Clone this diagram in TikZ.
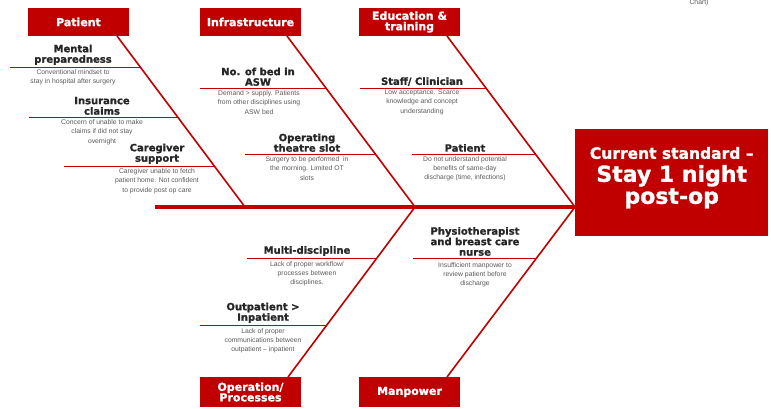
\documentclass[tikz,border=0pt]{standalone}
\usepackage{fontspec}
\setmainfont{Liberation Sans}
\newfontfamily\headfont[BoldFeatures={FakeBold=1.2}]{DejaVu Sans}
\usetikzlibrary{positioning, calc}
\definecolor{fbred}{HTML}{C00000}
\definecolor{headgrey}{HTML}{262626}
\definecolor{notegrey}{HTML}{595959}

\begin{document}
\begin{tikzpicture}[
    x=1pt, y=-1pt,
    catbox/.style={fill=fbred, text=white, minimum width=101pt, minimum height=28pt,
        inner sep=1pt, align=center, font=\headfont\bfseries\fontsize{11}{10.5}\selectfont},
    bone/.style={fbred, line width=1.6pt},
    twig/.style={fbred, line width=0.8pt},
    cause/.style={text=headgrey, align=center, inner sep=0pt, anchor=south,
        font=\headfont\bfseries\fontsize{10}{10.5}\selectfont},
    note/.style={text=notegrey, align=center, inner sep=0pt, anchor=north,
        font=\fontsize{6.8}{9.3}\selectfont}
]
    \useasboundingbox (0,0) rectangle (771,408);

    % Effect box and spine:
    \node[fill=fbred, minimum width=193pt, minimum height=107pt, inner sep=0pt,
        anchor=north west] (effect) at (575,129) {};
    \node[text=white, align=center, inner sep=0pt,
        font=\headfont\bfseries\fontsize{22}{22}\selectfont]
        (effectText) at ($(effect.center)+(0,-5)$)
        {{\fontsize{15.5}{16}\selectfont Current standard –}\\[1pt]
         Stay 1 night\\post-op};
    \node[note, anchor=base] (chart) at (699,4) {Chart)};
    \coordinate (head) at (575,207);
    \coordinate (tail) at (155,207);
    \draw[fbred, line width=3.5pt] (tail) -- (head);

    % Category boxes:
    \node[catbox] (patient) at (78.5,22) {Patient};
    \node[catbox] (infra) at (250.5,22) {Infrastructure};
    \node[catbox] (edu) at (409.5,22) {Education \&\\training};
    \node[catbox, minimum height=30pt] (ops) at (250.5,392) {Operation/\\Processes};
    \node[catbox, minimum height=30pt] (manpower) at (409.5,392) {Manpower};

    % Bones from boxes to spine:
    \coordinate (patRoot) at (117,36);  \coordinate (patEnd) at (245,207);
    \coordinate (infRoot) at (287,36);  \coordinate (infEnd) at (415,207);
    \coordinate (eduRoot) at (447,36);
    \coordinate (opsRoot) at (288,377); \coordinate (opsEnd) at (415,207);
    \coordinate (manRoot) at (447,377);
    \draw[bone] (patRoot) -- (patEnd);
    \draw[bone] (infRoot) -- (infEnd);
    \draw[bone] (eduRoot) -- (head);
    \draw[bone] (opsRoot) -- (opsEnd);
    \draw[bone] (manRoot) -- (head);

    % Patient causes
    \coordinate (mentL) at (10,67);   \coordinate (mentR) at (140,67);
    \coordinate (insL) at (29,117);   \coordinate (insR) at (178,117);
    \coordinate (careL) at (64,166);  \coordinate (careR) at (214,166);
    \draw[twig] (mentL) -- (mentR);
    \draw[twig] (insL) -- (insR);
    \draw[twig] (careL) -- (careR);
    \node[cause] (mental) at (73,65) {Mental\\preparedness};
    \node[note] (mentalNote) at (73,69.5) {Conventional mindset to\\stay in hospital after surgery};
    \node[cause] (insurance) at (102,115) {Insurance\\claims};
    \node[note] (insuranceNote) at (102,119.5) {Concern of unable to make\\claims if did not stay\\overnight};
    \node[cause] (caregiver) at (157,164) {Caregiver\\support};
    \node[note] (caregiverNote) at (157,168.5) {Caregiver unable to fetch\\patient home. Not confident\\to provide post op care};

    % Infrastructure causes
    \coordinate (bedL) at (200,88);   \coordinate (bedR) at (326,88);
    \coordinate (otL) at (245,154);   \coordinate (otR) at (375,154);
    \draw[twig] (bedL) -- (bedR);
    \draw[twig] (otL) -- (otR);
    \node[cause] (bed) at (258,86) {No. of bed in\\ASW};
    \node[note] (bedNote) at (259,90.5) {Demand > supply. Patients\\from other disciplines using\\ASW bed};
    \node[cause] (theatre) at (307,152) {Operating\\theatre slot};
    \node[note] (theatreNote) at (307,156.5) {Surgery to be performed~ in\\the morning. Limited OT\\slots};

    % Education causes
    \coordinate (staffL) at (360,88);   \coordinate (staffR) at (486,88);
    \coordinate (eptL) at (412,154);    \coordinate (eptR) at (535,154);
    \draw[twig] (staffL) -- (staffR);
    \draw[twig] (eptL) -- (eptR);
    \node[cause] (staff) at (422,86) {Staff/ Clinician};
    \node[note] (staffNote) at (422,89.5) {Low acceptance. Scarce\\knowledge and concept\\understanding};
    \node[cause] (eduPatient) at (465,152) {Patient};
    \node[note] (eduPatientNote) at (465,156) {Do not understand potential\\benefits of same-day\\discharge (time, infections)};

    % Operation causes
    \coordinate (multiL) at (247,258);  \coordinate (multiR) at (377,258);
    \coordinate (outL) at (200,325);    \coordinate (outR) at (327,325);
    \draw[twig] (multiL) -- (multiR);
    \draw[twig] (outL) -- (outR);
    \node[cause] (multi) at (307,256) {Multi-discipline};
    \node[note] (multiNote) at (307,261) {Lack of proper workflow/\\processes between\\disciplines.};
    \node[cause] (outpt) at (263,323) {Outpatient >\\Inpatient};
    \node[note] (outptNote) at (263,328) {Lack of proper\\communications between\\outpatient – inpatient};

    % Manpower causes
    \coordinate (physioL) at (413,258);  \coordinate (physioR) at (537,258);
    \draw[twig] (physioL) -- (physioR);
    \node[cause] (physio) at (475,256) {Physiotherapist\\and breast care\\nurse};
    \node[note] (physioNote) at (475,262) {Insufficient manpower to\\review patient before\\discharge};
\end{tikzpicture}
\end{document}
